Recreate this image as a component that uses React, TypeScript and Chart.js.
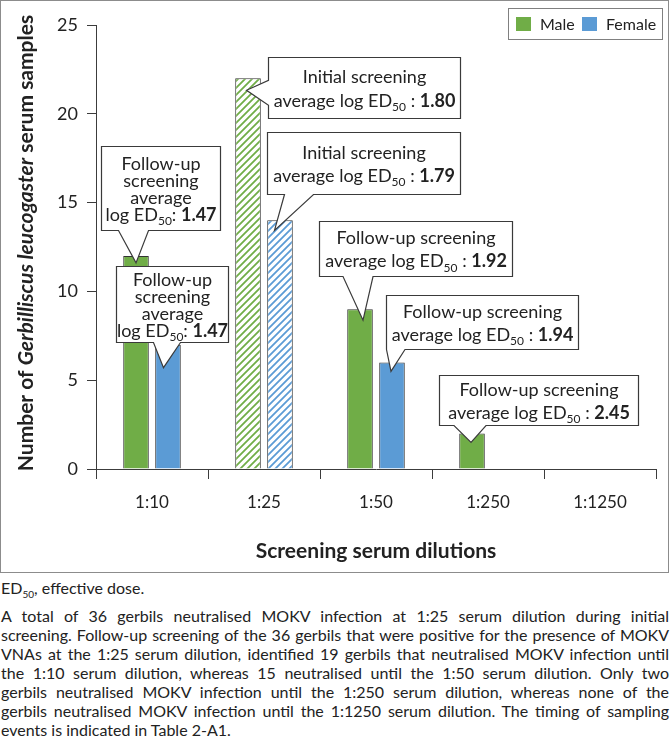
import React, { useEffect, useRef } from 'react';
import { Chart, registerables } from 'chart.js';

Chart.register(...registerables);

// ---------------- data ----------------
const categories = ['1:10', '1:25', '1:50', '1:250', '1:1250'];
const seriesNames = ['Male', 'Female'];
const maleCounts = [12, 22, 9, 2, 0];
const femaleCounts = [7, 14, 6, 0, 0];
const initialScreeningIndex = 1; // 1:25 = initial screening (hatched bars)
const yMin = 0;
const yMax = 25;
const yStep = 5;

// callouts: [datasetIndex, categoryIndex]
const calloutTargets = [[0, 0], [1, 0], [0, 1], [1, 1], [0, 2], [1, 2], [0, 3]];
const calloutPhase = ['Follow-up', 'Follow-up', 'Initial', 'Initial', 'Follow-up', 'Follow-up', 'Follow-up'];
const calloutLogED50 = ['1.47', '1.47', '1.80', '1.79', '1.92', '1.94', '2.45'];

const xTitle = 'Screening serum dilutions';
const yTitleRuns = [
  { t: 'Number of ', k: 'b' },
  { t: 'Gerbilliscus leucogaster', k: 'bi' },
  { t: ' serum samples', k: 'b' },
];

const footnoteLines = [
  'A total of 36 gerbils neutralised MOKV infection at 1:25 serum dilution during initial',
  'screening. Follow-up screening of the 36 gerbils that were positive for the presence of MOKV',
  'VNAs at the 1:25 serum dilution, identified 19 gerbils that neutralised MOKV infection until',
  'the 1:10 serum dilution, whereas 15 neutralised until the 1:50 serum dilution. Only two',
  'gerbils neutralised MOKV infection until the 1:250 serum dilution, whereas none of the',
  'gerbils neutralised MOKV infection until the 1:1250 serum dilution. The timing of sampling',
  'events is indicated in Table 2-A1.',
];

// ---------------- styles / layout ----------------
const FONT = 'Lato, "Open Sans", sans-serif';
const GREEN = '#70AD47';
const BLUE = '#5B9BD5';
const TEXT = '#222222';
const AXIS = '#3c3c3c';

// callout layout, offsets relative to bar top-centre (px)
const calloutLayout = [
  { box: [-35.5, -110, 119, 84], side: 'bottom', base: [-17.5, 12.5], tip: [0, 7], wrap: 4, gap: 17 },
  { box: [-51.5, -79, 112, 76], side: 'bottom', base: [-14.5, 12.5], tip: [-4.5, 23], wrap: 4, gap: 17 },
  { box: [19.5, -21, 192, 61], side: 'left', base: [2, 27], tip: [-1.5, 12], wrap: 2, gap: 24 },
  { box: [-12.5, -88, 193, 62], side: 'bottom', base: [4.5, 33.5], tip: [-5.5, 10], wrap: 2, gap: 23 },
  { box: [-41, -88, 193, 55], side: 'bottom', base: [-17, 13], tip: [3, 11], wrap: 2, gap: 23 },
  { box: [-6, -67, 192, 54], side: 'bottom', base: [-6, 13], tip: [-1, 9], wrap: 2, gap: 23 },
  { box: [-33, -58, 199, 50], side: 'bottom', base: [-18, 14], tip: [-1, 9], wrap: 2, gap: 23 },
];

type Run = { t: string; k?: string };

function fontFor(k: string | undefined, size: number) {
  switch (k) {
    case 's': return `${Math.round(size * 0.68)}px ${FONT}`;
    case 'b': return `bold ${size}px ${FONT}`;
    case 'bi': return `italic bold ${size}px ${FONT}`;
    default: return `${size}px ${FONT}`;
  }
}

function drawRuns(ctx: CanvasRenderingContext2D, runs: Run[], cx: number, cy: number, size: number) {
  let total = 0;
  const widths = runs.map((r) => {
    ctx.font = fontFor(r.k, size);
    const w = ctx.measureText(r.t).width;
    total += w;
    return w;
  });
  let x = cx - total / 2;
  ctx.textAlign = 'left';
  ctx.textBaseline = 'middle';
  runs.forEach((r, i) => {
    ctx.font = fontFor(r.k, size);
    const dy = r.k === 's' ? size * 0.35 : 0;
    ctx.fillText(r.t, x, cy + dy);
    x += widths[i];
  });
}

function calloutLines(phase: string, val: string, wrap: number): Run[][] {
  if (wrap === 4) {
    return [
      [{ t: phase }],
      [{ t: 'screening' }],
      [{ t: 'average' }],
      [{ t: 'log ED' }, { t: '50', k: 's' }, { t: ': ' }, { t: val, k: 'b' }],
    ];
  }
  return [
    [{ t: phase + ' screening' }],
    [{ t: 'average log ED' }, { t: '50', k: 's' }, { t: ' : ' }, { t: val, k: 'b' }],
  ];
}

function makeHatch(ctx: CanvasRenderingContext2D, color: string) {
  const c = document.createElement('canvas');
  c.width = 7;
  c.height = 7;
  const x = c.getContext('2d')!;
  x.fillStyle = '#ffffff';
  x.fillRect(0, 0, 7, 7);
  x.strokeStyle = color;
  x.lineWidth = 1.8;
  x.beginPath();
  x.moveTo(0, 7); x.lineTo(7, 0);
  x.moveTo(-2, 2); x.lineTo(2, -2);
  x.moveTo(5, 9); x.lineTo(9, 5);
  x.stroke();
  return ctx.createPattern(c, 'repeat')!;
}

const decorPlugin = {
  id: 'decor',
  afterDraw(chart: any) {
    const ctx: CanvasRenderingContext2D = chart.ctx;
    const area = chart.chartArea;
    ctx.save();
    ctx.fillStyle = TEXT;

    // x title
    drawRuns(ctx, [{ t: xTitle, k: 'b' }], (area.left + area.right) / 2, 550, 21);

    // y title
    ctx.save();
    ctx.translate(25, 242);
    ctx.rotate(-Math.PI / 2);
    drawRuns(ctx, yTitleRuns as Run[], 0, 0, 21);
    ctx.restore();

    // legend
    const lx = chart.width - 160;
    const ly = 7;
    ctx.strokeStyle = '#808080';
    ctx.lineWidth = 1;
    ctx.strokeRect(lx + 0.5, ly + 0.5, 154, 31);
    const colors = [GREEN, BLUE];
    const offs = [[8, 32], [74, 98]];
    seriesNames.forEach((n, i) => {
      ctx.fillStyle = colors[i];
      ctx.fillRect(lx + offs[i][0], ly + 9, 15, 14);
      ctx.fillStyle = TEXT;
      ctx.font = `16px ${FONT}`;
      ctx.textAlign = 'left';
      ctx.textBaseline = 'middle';
      ctx.fillText(n, lx + offs[i][1], ly + 16.5);
    });

    // callouts
    calloutTargets.forEach(([ds, idx], i) => {
      const el = chart.getDatasetMeta(ds).data[idx];
      const bx = el.x;
      const by = el.y;
      const L = calloutLayout[i];
      const x0 = Math.round(bx + L.box[0]) + 0.5;
      const y0 = Math.round(by + L.box[1]) + 0.5;
      const x1 = x0 + L.box[2];
      const y1 = y0 + L.box[3];
      const tx = bx + L.tip[0];
      const ty = by + L.tip[1];
      ctx.beginPath();
      if (L.side === 'bottom') {
        const b1 = bx + L.base[0];
        const b2 = bx + L.base[1];
        ctx.moveTo(x0, y0);
        ctx.lineTo(x1, y0);
        ctx.lineTo(x1, y1);
        ctx.lineTo(b2, y1);
        ctx.lineTo(tx, ty);
        ctx.lineTo(Math.max(b1, x0), y1);
        ctx.lineTo(x0, y1);
        ctx.closePath();
      } else {
        const b1 = by + L.base[0];
        const b2 = by + L.base[1];
        ctx.moveTo(x0, y0);
        ctx.lineTo(x1, y0);
        ctx.lineTo(x1, y1);
        ctx.lineTo(x0, y1);
        ctx.lineTo(x0, b2);
        ctx.lineTo(tx, ty);
        ctx.lineTo(x0, b1);
        ctx.closePath();
      }
      ctx.fillStyle = '#ffffff';
      ctx.fill();
      ctx.strokeStyle = '#3a3a3a';
      ctx.lineWidth = 1.2;
      ctx.lineJoin = 'miter';
      ctx.stroke();

      const lines = calloutLines(calloutPhase[i], calloutLogED50[i], L.wrap);
      const cx = (x0 + x1) / 2;
      const cy = (y0 + y1) / 2 + 1;
      ctx.fillStyle = TEXT;
      lines.forEach((runs, j) => {
        const ly2 = cy + (j - (lines.length - 1) / 2) * L.gap;
        drawRuns(ctx, runs, cx, ly2, 18);
      });
    });
    ctx.restore();
  },
};

function ChartBox() {
  const ref = useRef<HTMLCanvasElement | null>(null);
  useEffect(() => {
    document.body.style.margin = '0';
    const canvas = ref.current!;
    const ctx = canvas.getContext('2d')!;
    const hatchGreen = makeHatch(ctx, GREEN);
    const hatchBlue = makeHatch(ctx, BLUE);
    const maleBg = categories.map((_, i) => (i === initialScreeningIndex ? hatchGreen : GREEN));
    const femaleBg = categories.map((_, i) => (i === initialScreeningIndex ? hatchBlue : BLUE));

    const chart = new Chart(canvas, {
      type: 'bar',
      data: {
        labels: categories,
        datasets: [
          {
            label: seriesNames[0],
            data: maleCounts,
            backgroundColor: maleBg as any,
            borderColor: '#333333',
            borderWidth: 1,
            categoryPercentage: 0.571,
            barPercentage: 0.8,
          },
          {
            label: seriesNames[1],
            data: femaleCounts,
            backgroundColor: femaleBg as any,
            borderColor: '#333333',
            borderWidth: 1,
            categoryPercentage: 0.571,
            barPercentage: 0.8,
          },
        ],
      },
      options: {
        animation: false,
        responsive: true,
        maintainAspectRatio: false,
        events: [],
        layout: { padding: { top: 24, right: 12, left: 0, bottom: 0 } },
        plugins: {
          legend: { display: false },
          tooltip: { enabled: false },
          title: { display: false },
        },
        scales: {
          x: {
            afterFit: (s: any) => { s.height = 103; },
            grid: {
              display: true,
              drawOnChartArea: false,
              drawTicks: true,
              tickLength: 10,
              offset: true,
              color: AXIS,
            },
            border: { display: true, color: AXIS, width: 1 },
            ticks: { color: TEXT, font: { family: FONT, size: 17 }, padding: 13 },
          },
          y: {
            min: yMin,
            max: yMax,
            afterFit: (s: any) => { s.width = 95; },
            grid: {
              display: true,
              drawOnChartArea: false,
              drawTicks: true,
              tickLength: 9,
              color: AXIS,
            },
            border: { display: true, color: AXIS, width: 1 },
            ticks: { stepSize: yStep, color: TEXT, font: { family: FONT, size: 18 }, padding: 9 },
          },
        },
      },
      plugins: [decorPlugin],
    });
    return () => chart.destroy();
  }, []);

  return (
    <div style={{ width: 667, height: 571, border: '1px solid #8c8c8c', position: 'relative', background: '#fff' }}>
      <canvas ref={ref} />
    </div>
  );
}

export default function App() {
  const lineStyle: React.CSSProperties = {
    whiteSpace: 'nowrap',
    textAlign: 'justify',
    textAlignLast: 'justify' as any,
    height: 19,
    lineHeight: '19px',
    overflow: 'visible',
  };
  return (
    <div style={{ width: 669, fontFamily: FONT, color: TEXT, background: '#fff' }}>
      <ChartBox />
      <div style={{ fontSize: 16, lineHeight: '20px', height: 20, marginTop: 5, paddingLeft: 1, overflow: 'visible' }}>
        ED<span style={{ fontSize: 10, position: 'relative', top: 4, lineHeight: 0 }}>50</span>, effective dose.
      </div>
      <div style={{ fontSize: 16, marginTop: 8, width: 668, paddingLeft: 1 }}>
        {footnoteLines.map((l, i) => (
          <div
            key={i}
            style={i === footnoteLines.length - 1 ? { ...lineStyle, textAlignLast: 'left' as any } : lineStyle}
          >
            {l}
          </div>
        ))}
      </div>
    </div>
  );
}
